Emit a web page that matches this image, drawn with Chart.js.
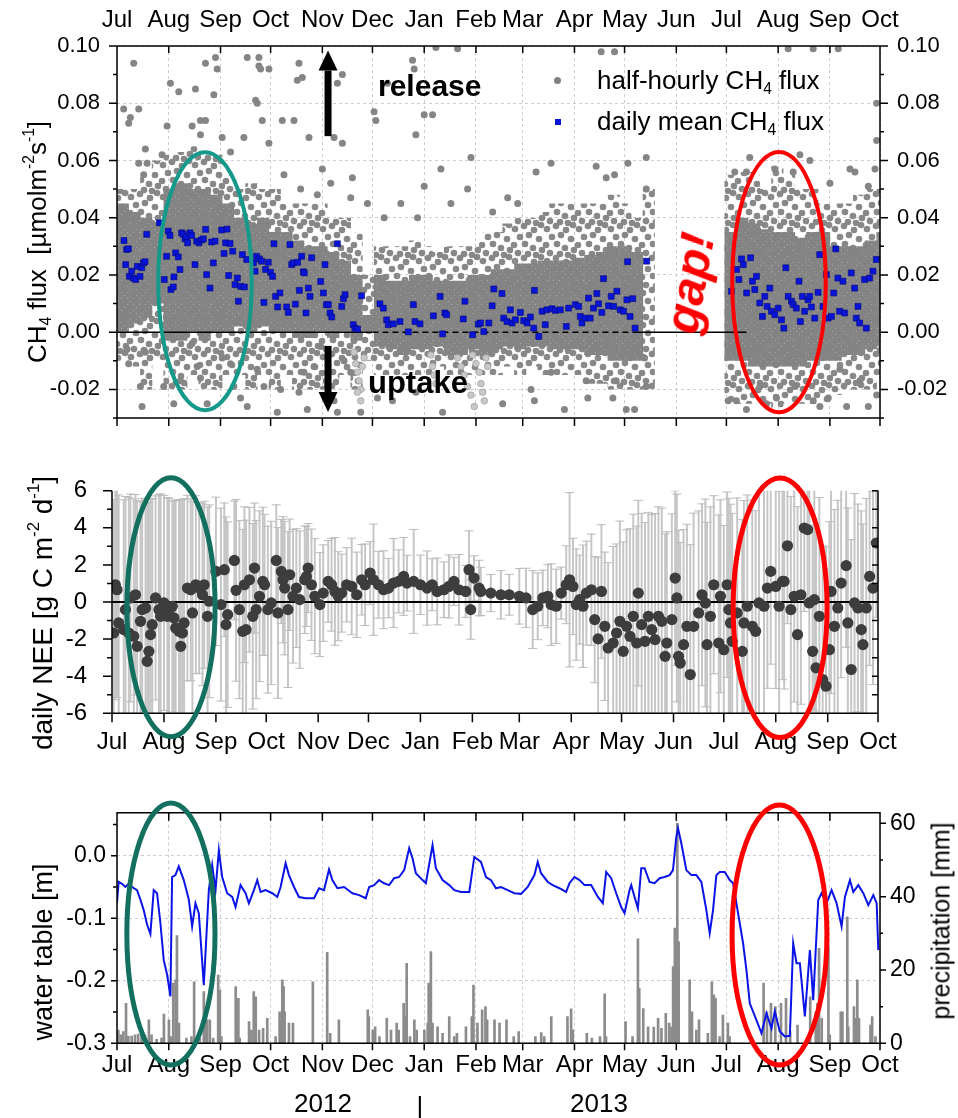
<!DOCTYPE html>
<html>
<head>
<meta charset="utf-8">
<title>CH4 flux, NEE and water table 2012-2013</title>
<script src="https://cdn.jsdelivr.net/npm/chart.js@4.4.1/dist/chart.umd.min.js"></script>
<style>
  html, body { margin:0; padding:0; background:#fff; }
  #page { position:relative; width:958px; height:1118px; overflow:hidden; font-family:"Liberation Sans", Arial, sans-serif; color:#000; }
  #page canvas { position:absolute; left:0; }
  .txt { position:absolute; white-space:nowrap; line-height:1; }
  .vt { transform:translate(-50%,-50%) rotate(-90deg); }
  .mid { transform:translate(0,-50%); }
  .ctr { transform:translate(-50%,-50%); }
  sub, sup { font-size:60%; line-height:0; }
  sub { vertical-align:-0.35em; }
  sup { vertical-align:0.75em; }
</style>
</head>
<body>
<div id="page">
  <canvas id="c1" width="958" height="440" style="top:0"></canvas>
  <canvas id="c2" width="958" height="340" style="top:440px"></canvas>
  <canvas id="c3" width="958" height="338" style="top:780px"></canvas>

  <div class="txt vt" style="left:37px;top:242px;font-size:26px">CH<sub>4</sub> flux&nbsp;&nbsp;[µmolm<sup>-2</sup>s<sup>-1</sup>]</div>
  <div class="txt mid" style="left:378px;top:86px;font-size:30px;font-weight:bold">release</div>
  <div class="txt mid" style="left:368px;top:382px;font-size:31px;font-weight:bold">uptake</div>
  <div class="txt" style="left:690px;top:283px;font-size:48px;font-weight:bold;font-style:italic;color:#f00;transform:translate(-50%,-50%) rotate(-80deg)">gap!</div>
  <div style="position:absolute;left:554px;top:77px;width:7px;height:7px;border-radius:50%;background:#808080"></div>
  <div class="txt mid" style="left:597px;top:80px;font-size:26px">half-hourly CH<sub>4</sub> flux</div>
  <div style="position:absolute;left:555px;top:119px;width:6px;height:6px;background:#0a14d6"></div>
  <div class="txt mid" style="left:597px;top:121px;font-size:26px">daily mean CH<sub>4</sub> flux</div>

  <div class="txt vt" style="left:43px;top:613px;font-size:28px">daily NEE [g C m<sup>-2</sup> d<sup>-1</sup>]</div>

  <div class="txt vt" style="left:43px;top:952px;font-size:27px">water table [m]</div>
  <div class="txt vt" style="left:941px;top:921px;font-size:25px">precipitation [mm]</div>
  <div class="txt ctr" style="left:323px;top:1103px;font-size:26px">2012</div>
  <div class="txt ctr" style="left:420px;top:1106px;font-size:26px">|</div>
  <div class="txt ctr" style="left:599px;top:1103px;font-size:26px">2013</div>
</div>
<script>
// x axis: days since 1 Jul 2012
const monthDays = [0,31,62,92,123,153,184,215,243,274,304,335,365,396,427,457];
const monthNames = ['Jul','Aug','Sep','Oct','Nov','Dec','Jan','Feb','Mar','Apr','May','Jun','Jul','Aug','Sep','Oct'];

// ---- panel 1: CH4 flux ----
const ch4MajorTicks = [-0.02,0,0.02,0.04,0.06,0.08,0.10];
const ch4MinorTicks = [-0.03,-0.01,0.01,0.03,0.05,0.07,0.09];

// daily mean CH4 flux (blue squares)
const ch4DailyDays = [
  4.2,5.2,5.8,6.8,7.4,8.8,9.8,11.2,12.2,13.8,
  14.8,15.8,16.8,17.8,25.4,28.3,29.7,30.7,31.7,32.3,
  33.7,34.1,35.1,36.7,37.7,38.7,39.7,40.7,41.7,42.3,
  43.7,44.7,46.7,47.7,49.1,50.7,51.7,53.1,53.7,55.7,
  56.7,57.7,58.7,62.7,64.1,65.1,65.9,66.9,67.7,69.3,
  70.7,72.1,72.7,74.1,75.1,76.3,77.7,81.7,82.7,83.6,
  85.2,86.6,88.0,89.0,90.6,92.0,93.2,94.0,95.0,96.2,
  97.6,101.6,102.6,103.6,104.6,105.6,106.8,108.2,109.2,110.6,
  111.6,112.2,113.2,114.6,115.6,116.6,122.0,123.6,124.6,125.4,
  126.6,127.6,128.6,132.0,134.6,135.6,136.6,141.5,142.5,144.1,
  146.5,157.5,159.5,161.5,162.5,165.5,169.5,174.5,177.5,178.5,
  181.5,189.5,193.5,195.0,196.4,197.4,207.4,208.4,213.0,216.4,
  217.7,219.7,222.7,224.7,225.7,230.6,231.6,233.6,235.6,236.6,
  238.6,241.6,243.6,245.6,247.6,249.6,250.0,252.6,254.6,256.5,
  257.5,260.5,262.5,265.5,269.1,270.5,274.5,276.5,277.5,278.5,
  280.5,282.4,283.4,285.4,287.4,288.4,290.4,291.4,294.4,296.0,
  297.4,299.4,301.4,303.4,305.4,305.8,307.3,308.9,310.3,317.3,
  368.1,371.1,372.5,374.1,375.1,377.1,379.5,380.6,382.0,383.0,
  385.0,386.6,388.0,389.4,391.0,392.0,394.0,396.0,398.0,399.4,
  400.6,402.0,404.0,405.0,406.9,408.5,409.3,410.5,411.9,413.9,
  414.9,415.9,417.9,419.9,420.9,422.9,424.9,425.9,427.9,429.3,
  430.5,431.8,432.8,434.8,435.8,439.8,441.8,442.8,443.8,444.8,
  447.8,448.8,450.8,452.8,454.8
];
const ch4DailyValues = [
  0.0320,0.0236,0.0289,0.0291,0.0195,0.0213,0.0189,0.0184,0.0230,0.0195,
  0.0225,0.0242,0.0246,0.0342,0.0382,0.0184,0.0265,0.0353,0.0338,0.0149,
  0.0158,0.0193,0.0277,0.0263,0.0219,0.0347,0.0342,0.0326,0.0333,0.0312,
  0.0347,0.0338,0.0236,0.0318,0.0312,0.0322,0.0326,0.0359,0.0201,0.0154,
  0.0315,0.0242,0.0318,0.0357,0.0275,0.0312,0.0360,0.0198,0.0310,0.0283,
  0.0166,0.0189,0.0108,0.0160,0.0271,0.0158,0.0254,0.0242,0.0213,0.0265,
  0.0256,0.0248,0.0104,0.0219,0.0244,0.0209,0.0195,0.0309,0.0125,0.0088,
  0.0137,0.0088,0.0069,0.0306,0.0236,0.0242,0.0098,0.0244,0.0146,0.0265,
  0.0211,0.0207,0.0067,0.0154,0.0125,0.0260,0.0177,0.0137,0.0236,0.0096,
  0.0096,0.0067,0.0053,0.0309,0.0090,0.0117,0.0131,0.0026,0.0014,0.0011,
  0.0127,0.0099,0.0084,0.0043,0.0026,0.0029,0.0037,0.0001,0.0096,0.0037,
  0.0029,0.0057,0.0125,-0.0006,0.0067,0.0061,0.0046,0.0108,-0.0009,0.0028,
  0.0032,0.0002,0.0032,0.0092,0.0151,0.0135,0.0049,0.0037,0.0078,0.0032,
  0.0043,0.0069,0.0040,0.0032,0.0053,0.0014,0.0146,-0.0015,0.0073,0.0026,
  0.0078,0.0082,0.0076,0.0078,0.0020,0.0084,0.0096,0.0090,0.0055,0.0032,
  0.0049,0.0119,0.0049,0.0084,0.0135,0.0099,0.0069,0.0187,0.0092,0.0125,
  0.0090,0.0143,0.0078,0.0073,0.0113,0.0246,0.0055,0.0117,0.0014,0.0248,
  0.0143,0.0219,0.0184,0.0256,0.0236,0.0137,0.0260,0.0178,0.0149,0.0195,
  0.0102,0.0055,0.0125,0.0090,0.0154,0.0073,0.0061,0.0084,0.0043,0.0014,
  0.0225,0.0125,0.0108,0.0096,0.0084,0.0178,0.0037,0.0125,0.0073,0.0113,
  0.0125,0.0088,0.0049,0.0139,0.0271,0.0090,0.0201,0.0049,0.0055,0.0137,
  0.0291,0.0189,0.0073,0.0178,0.0067,0.0207,0.0154,0.0049,0.0090,0.0032,
  0.0184,0.0014,0.0189,0.0213,0.0254
];

// half-hourly flux: dense core and outer spread per week (week i = days 7i..7i+6)
const cloudLo = [
  0.000,0.003,0.005,0.010,-0.003,-0.003,0.000,-0.003,0.000,0.000,
  0.002,0.000,0.002,0.000,0.000,-0.002,-0.002,0.000,-0.002,0.000,
  -0.003,0.000,-0.005,-0.006,-0.008,-0.006,-0.006,-0.005,-0.008,-0.008,
  -0.006,-0.008,-0.006,-0.005,-0.006,-0.005,-0.005,-0.006,-0.006,-0.006,
  -0.008,-0.008,-0.010,-0.010,-0.010,null,null,null,null,null,
  null,null,-0.010,-0.010,-0.012,-0.012,-0.012,-0.012,-0.012,-0.010,
  -0.010,-0.010,-0.008,-0.008,-0.006,-0.005
];
const cloudHi = [
  0.045,0.042,0.040,0.038,0.050,0.052,0.050,0.050,0.048,0.045,
  0.040,0.038,0.040,0.035,0.035,0.032,0.030,0.030,0.028,0.025,
  0.020,0.006,0.020,0.018,0.018,0.020,0.020,0.018,0.018,0.018,
  0.020,0.020,0.022,0.022,0.024,0.024,0.025,0.025,0.025,0.026,
  0.027,0.028,0.030,0.030,0.028,null,null,null,null,null,
  null,null,0.035,0.040,0.038,0.036,0.035,0.035,0.033,0.035,
  0.035,0.030,0.030,0.030,0.032,0.035
];
const haloLo = [
  -0.010,-0.012,-0.020,-0.010,-0.020,-0.020,-0.015,-0.020,-0.020,-0.015,
  -0.015,-0.020,-0.015,-0.020,-0.015,-0.020,-0.020,-0.020,-0.020,-0.015,
  -0.020,-0.010,-0.015,-0.015,-0.015,-0.015,-0.015,-0.012,-0.015,-0.015,
  -0.015,-0.015,-0.015,-0.012,-0.015,-0.012,-0.015,-0.015,-0.015,-0.015,
  -0.018,-0.018,-0.020,-0.020,-0.020,-0.020,null,null,null,null,
  null,null,-0.025,-0.025,-0.025,-0.025,-0.028,-0.025,-0.025,-0.025,
  -0.025,-0.022,-0.020,-0.020,-0.020,-0.015
];
const haloHi = [
  0.050,0.050,0.055,0.060,0.062,0.063,0.065,0.063,0.062,0.055,
  0.050,0.052,0.050,0.050,0.045,0.045,0.045,0.045,0.040,0.040,
  0.035,0.020,0.030,0.030,0.030,0.032,0.030,0.028,0.030,0.030,
  0.030,0.035,0.035,0.038,0.040,0.040,0.042,0.045,0.045,0.045,
  0.045,0.045,0.048,0.045,0.040,0.050,null,null,null,null,
  null,null,0.055,0.056,0.056,0.050,0.058,0.055,0.050,0.050,
  0.045,0.045,0.045,0.048,0.050,0.050
];

// scattered half-hourly values outside the core
const ch4OutDays = [
  10,4,8,7,13,17,13,18,16,32,
  37,30,27,47,45,50,53,50,53,58,
  59,60,63,68,76,78,85,85,86,91,
  83,84,87,91,99,106,109,108,111,115,
  123,130,135,132,135,141,154,155,162,177,
  178,179,184,189,191,204,212,194,184,100,
  110,120,128,140,150,160,170,180,200,210,
  225,240,290,298,260,251,287,306,293,298,
  234,317,317,370,377,379,394,402,409,405,
  415,417,432,439,442,427,450,454,455,455,
  6,7,14,15,17,28,34,38,45,48,
  50,54,63,68,70,74,78,84,88,96,
  98,109,112,114,118,122,126,130,132,136,
  140,146,156,165,179,195,225,231,248,250,
  260,268,281,282,297,299,305,310,316,317,
  366,371,377,385,389,395,406,411,417,421,
  426,433,437,445,450,455
];
const ch4OutValues = [
  0.094,0.078,0.075,0.073,0.078,0.064,0.059,0.059,0.055,0.087,
  0.084,0.072,0.062,0.085,0.072,0.074,0.074,0.069,0.094,0.083,
  0.096,0.092,0.068,0.063,0.068,0.096,0.096,0.093,0.092,0.092,
  0.081,0.080,0.074,0.066,0.074,0.074,0.094,0.088,0.089,0.068,
  0.057,0.068,0.066,0.087,0.090,0.054,0.077,0.074,0.087,0.095,
  0.092,0.069,0.076,0.076,0.0995,0.099,0.061,0.057,0.051,0.055,
  0.050,0.048,0.052,0.047,0.045,0.040,0.045,0.040,0.045,0.050,
  0.042,0.045,0.098,0.098,0.059,0.056,0.058,0.059,0.054,0.055,
  0.047,0.061,0.050,0.056,0.056,0.061,0.057,0.099,0.062,0.056,
  0.060,0.099,0.099,0.057,0.056,0.052,0.051,0.057,0.080,0.067,
  -0.006,-0.011,-0.019,-0.026,-0.007,-0.019,-0.025,-0.017,-0.004,-0.012,
  -0.016,-0.025,-0.009,-0.011,-0.019,-0.023,-0.026,-0.013,-0.019,-0.028,
  -0.020,-0.021,-0.014,-0.027,-0.012,-0.005,-0.019,-0.024,-0.028,-0.010,
  -0.014,-0.028,-0.023,-0.024,-0.021,-0.028,-0.006,-0.025,-0.020,-0.024,
  -0.014,-0.027,-0.017,-0.023,-0.023,-0.017,-0.027,-0.027,-0.009,-0.019,
  -0.024,-0.024,-0.027,-0.019,-0.025,-0.023,-0.019,-0.010,-0.024,-0.026,
  -0.023,-0.013,-0.026,-0.017,-0.026,-0.022
];
// light grey (filtered) winter values below zero
const ch4FiltDays = [142,143,144,145,146,147,148,146,144,188,189,190,191,204,206,208,210,212,214,213,215,217,218,219,220,221,222];
const ch4FiltValues = [-0.007,-0.011,-0.014,-0.017,-0.020,-0.012,-0.009,-0.024,-0.021,-0.008,-0.012,-0.015,-0.018,-0.009,-0.012,-0.015,-0.019,-0.022,-0.026,-0.008,-0.011,-0.014,-0.018,-0.021,-0.024,-0.009,-0.012];
const zeroLineDays = [0,153,311,377];

// ---- panel 2: daily NEE ----
const neeMajorTicks = [-6,-4,-2,0,2,4,6];
const neeMinorTicks = [-5,-3,-1,1,3,5];
const neeDays = [
  1,2,3,4,7,8,10,11,13,14,
  15,17,18,20,21,22,23,24,26,28,
  29,31,33,34,36,37,38,40,41,42,
  43,45,47,48,50,52,54,55,57,58,
  62,65,67,68,69,73,74,76,78,79,
  80,82,84,85,86,88,90,91,93,95,
  98,99,101,102,103,105,106,108,110,112,
  115,116,117,119,121,124,126,129,131,133,
  135,137,140,143,146,149,151,154,156,159,
  162,165,168,171,174,176,180,184,188,191,
  194,198,201,204,207,211,213,214,216,219,
  220,226,232,237,243,247,251,254,257,260,
  262,265,268,271,273,275,277,279,281,283,
  286,288,290,292,294,296,299,301,303,305,
  307,309,311,313,314,316,318,320,322,324,
  326,328,330,331,334,336,337,338,339,341,
  343,345,347,350,352,354,355,357,359,362,
  363,365,367,368,369,370,373,376,377,379,
  382,384,386,389,391,393,396,398,400,401,
  403,405,407,409,411,413,415,416,418,419,
  420,422,424,426,428,429,431,433,435,438,
  439,441,443,445,447,448,450,452,454,456
];
const neeValues = [
  -1.67,0.93,0.66,-1.13,-1.49,-0.41,-1.67,0.22,-1.85,0.39,
  -2.39,-1.04,-0.41,-0.32,-3.2,-2.66,-1.76,-1.22,0.22,-0.41,
  -0.77,-0.05,-0.77,-0.41,-0.23,-0.86,-1.4,-1.58,-2.39,-1.67,
  -1.13,0.75,0.66,-0.59,0.93,0.75,0.39,0.93,-0.77,0.04,
  1.65,-0.14,1.74,-1.22,-0.68,2.24,0.63,-0.41,-1.58,0.93,
  -1.49,1.2,-0.77,1.83,-0.41,0.31,1.11,0.93,-0.41,-0.05,
  2.24,-0.59,1.65,1.2,0.75,-0.41,1.47,0.31,0.75,0.13,
  1.2,1.38,1.83,0.93,0.31,-0.14,0.48,1.11,0.93,0.57,
  0.31,0.48,0.93,0.84,0.39,1.2,0.93,1.56,1.2,0.93,
  0.66,0.75,1.02,1.11,1.38,1.02,1.11,0.93,0.75,0.93,
  0.57,0.66,0.84,1.11,0.66,0.57,1.74,-0.41,1.29,0.75,
  0.57,0.48,0.39,0.39,0.31,0.22,-0.41,-0.23,0.22,0.31,
  -0.14,-0.23,0.48,0.93,1.2,0.84,-0.14,0.13,-0.23,0.48,
  0.66,-0.95,-1.99,0.57,-1.31,-2.48,-2.21,-1.67,-1.04,-2.66,
  -1.31,-1.85,-0.77,-2.21,0.48,-1.22,-2.12,-0.77,-1.49,-2.03,
  -0.77,-1.04,-2.93,-2.21,-0.95,1.29,0.22,-2.93,-3.29,-2.3,
  -1.31,-3.91,-1.31,-0.59,0.39,-0.05,-2.3,-0.77,0.93,-2.21,
  0.31,-2.57,0.93,-0.41,-1.13,-2.12,-0.59,-2.66,-1.13,-0.23,
  -1.31,-1.58,-0.05,-0.23,0.75,1.65,0.84,-0.23,1.11,1.11,
  3.03,-0.41,0.31,-1.76,0.39,3.99,3.9,-0.05,-2.66,0.13,
  -3.55,-0.77,-4.18,-4.54,-2.57,0.57,-1.31,-0.32,1.02,1.96,
  -1.13,-3.64,-0.05,-0.32,-1.49,-2.3,-0.32,1.38,0.75,3.18
];
const neeErr = [
  7.2,6.2,5.8,6.9,7.0,6.1,7.3,5.6,7.4,5.4,
  7.8,6.5,6.0,5.9,8.6,8.0,7.3,6.8,5.5,6.2,
  6.6,5.8,6.4,6.0,5.7,6.3,6.9,7.1,7.9,7.2,
  6.7,5.0,4.9,6.0,4.8,4.6,4.9,4.5,5.9,5.2,
  4.0,5.2,3.6,5.8,5.0,3.2,4.9,4.8,5.5,4.2,
  5.9,3.9,5.0,3.5,4.8,4.6,4.0,3.8,4.5,4.4,
  3.0,4.6,2.8,3.4,3.6,4.2,3.0,3.6,3.2,3.7,
  2.9,2.7,2.4,3.0,3.1,2.8,2.6,2.2,2.5,2.9,
  2.4,2.1,2.0,2.6,2.3,1.9,2.2,1.7,3.0,1.8,
  2.1,1.6,2.4,1.7,2.1,1.5,2.8,1.6,2.0,1.4,
  1.8,1.5,1.7,1.3,1.9,1.4,2.1,1.6,1.2,1.5,
  1.3,1.0,1.3,1.1,1.5,1.6,2.1,1.8,1.5,1.7,
  2.2,2.0,1.4,2.1,4.7,2.6,3.0,2.4,3.3,2.8,
  3.0,3.4,4.4,3.6,4.0,4.6,5.2,4.8,5.4,5.9,
  5.2,5.8,5.5,6.3,5.0,6.0,6.4,5.6,6.2,6.8,
  5.9,6.1,6.6,6.0,5.7,4.7,5.6,6.8,6.5,6.2,
  5.5,7.0,6.1,5.5,4.9,5.6,6.6,5.9,4.8,6.9,
  5.2,6.7,5.0,6.0,6.4,6.9,6.2,7.1,6.6,6.0,
  6.8,6.5,6.1,6.3,5.4,5.0,5.5,6.2,5.3,5.8,
  4.2,6.1,5.7,6.9,5.9,4.5,3.8,6.2,6.8,6.0,
  7.3,6.4,7.2,7.5,6.9,5.5,6.3,5.8,5.1,4.4,
  6.2,7.0,5.9,5.6,6.4,6.5,5.9,4.8,5.2,4.0
];

// ---- panel 3: water table and precipitation ----
const wtMajorTicks = [-0.3,-0.2,-0.1,0.0];
const wtMinorTicks = [-0.25,-0.15,-0.05,0.05];
const prMajorTicks = [0,20,40,60];
const prMinorTicks = [10,30,50];
const wtDays = [
  0,1,3,5,7,9,12,14,16,18,
  20,22,24,26,28,30,32,33,35,37,
  40,43,45,47,49,52,55,57,59,61,
  63,66,69,71,74,77,79,82,84,86,
  89,93,96,98,101,103,106,109,113,118,
  121,124,127,129,132,136,141,145,149,151,
  154,157,160,163,166,169,172,175,177,179,
  183,185,189,191,195,199,202,206,211,214,
  218,221,224,227,230,234,238,242,246,250,
  252,254,258,261,265,269,271,274,277,280,
  284,288,291,293,296,299,302,304,307,308,
  310,312,314,316,319,322,325,328,331,333,
  335,336,338,341,344,347,350,353,355,357,
  359,361,364,367,369,372,375,377,379,383,
  386,389,392,394,397,400,403,405,407,409,
  412,415,417,420,422,425,428,431,434,436,
  439,441,444,447,450,453,455,456
];
const wtValues = [
  -0.075,-0.042,-0.045,-0.050,-0.045,-0.050,-0.055,-0.070,-0.087,-0.110,
  -0.125,-0.055,-0.060,-0.108,-0.167,-0.190,-0.225,-0.034,-0.031,-0.017,
  -0.039,-0.070,-0.113,-0.076,-0.092,-0.207,-0.055,-0.015,-0.055,0.009,
  -0.034,-0.060,-0.066,-0.082,-0.047,-0.060,-0.076,-0.055,-0.039,-0.058,
  -0.055,-0.060,-0.066,-0.050,-0.012,-0.031,-0.050,-0.066,-0.068,-0.068,
  -0.052,-0.055,-0.022,-0.039,-0.052,-0.050,-0.060,-0.063,-0.068,-0.050,
  -0.047,-0.039,-0.044,-0.047,-0.036,-0.034,-0.023,0.012,-0.004,-0.028,
  -0.039,-0.044,0.017,-0.020,-0.039,-0.047,-0.055,-0.058,-0.058,-0.002,
  -0.010,-0.034,-0.039,-0.052,-0.050,-0.055,-0.060,-0.061,-0.050,-0.031,
  -0.010,-0.028,-0.042,-0.047,-0.052,-0.058,-0.044,-0.034,-0.039,-0.047,
  -0.047,-0.066,-0.076,-0.026,-0.036,-0.060,-0.082,-0.092,-0.055,-0.047,
  -0.066,-0.084,-0.020,-0.020,-0.042,-0.044,-0.036,-0.034,-0.031,-0.023,
  0.030,0.044,0.020,-0.023,-0.031,-0.031,-0.042,-0.087,-0.124,-0.087,
  -0.031,-0.026,-0.026,-0.039,-0.044,-0.092,-0.140,-0.183,-0.236,-0.263,
  -0.284,-0.252,-0.276,-0.249,-0.281,-0.289,-0.288,-0.140,-0.172,-0.172,
  -0.257,-0.151,-0.231,-0.071,-0.060,-0.076,-0.055,-0.076,-0.113,-0.066,
  -0.039,-0.058,-0.047,-0.060,-0.079,-0.063,-0.076,-0.151
];
const precipDays = [
  0.8,2.2,3.8,5.4,6.8,8.8,10.8,12.7,14.7,16.7,
  19.1,20.7,23.7,26.7,28.1,31.1,32.3,33.7,35.1,35.9,
  37.1,41.6,44.6,46.2,49.6,52.0,52.8,54.0,55.6,57.6,
  60.6,61.6,62.5,71.1,71.9,72.7,73.5,79.1,80.5,81.9,
  83.1,85.1,87.5,90.0,95.0,97.4,98.4,99.0,99.8,100.4,
  103.0,105.4,117.3,125.9,127.7,132.9,150.2,150.8,153.2,154.6,
  157.2,161.6,164.1,167.5,168.7,171.7,172.7,173.5,175.5,178.1,
  179.5,184.1,186.1,186.7,188.0,189.0,192.0,195.0,199.0,202.0,
  203.6,209.0,212.5,213.5,215.9,218.7,220.7,221.7,226.1,229.1,
  233.3,237.6,240.6,250.6,254.1,255.9,260.1,269.8,272.0,273.0,
  281.4,284.4,289.3,292.1,292.9,304.6,308.8,312.0,312.8,315.2,
  318.1,321.5,324.1,326.1,328.7,330.7,332.1,333.1,334.1,335.0,
  335.6,336.4,343.0,344.4,347.0,348.6,353.9,356.3,357.5,358.5,
  360.9,362.9,365.9,366.9,387.3,389.3,391.7,394.3,397.7,400.7,
  403.2,407.6,415.2,418.5,419.5,420.5,422.1,426.1,426.9,433.5,
  434.5,437.4,438.0,441.4,442.0,443.4,444.4,451.3,452.3,454.3
];
const precipMm = [
  3.6,2.3,3.2,10.9,2.0,2.0,2.3,2.5,3.2,2.3,
  6.4,2.3,1.1,1.4,8.0,6.4,1.8,16.4,17.3,29.4,
  5.5,1.4,1.8,16.8,1.4,14.1,10.0,6.4,6.4,1.4,
  18.6,14.5,1.8,15.5,6.4,12.3,1.4,5.9,3.6,14.1,
  12.7,3.6,4.1,6.8,1.8,8.6,6.4,17.3,15.5,8.6,
  5.5,5.5,16.8,24.8,2.7,6.4,9.1,7.3,3.6,4.5,
  1.8,6.8,3.6,5.5,3.6,10.9,7.3,21.8,1.8,6.4,
  3.6,3.6,5.5,16.4,25.0,5.5,4.5,2.7,7.3,1.8,
  2.7,4.5,7.3,15.9,5.5,9.1,10.0,6.4,6.4,5.5,
  6.4,1.8,3.2,1.8,2.9,1.8,7.3,7.3,9.4,3.6,
  2.7,1.4,1.8,13.5,1.8,5.9,1.8,28.5,15.0,9.5,
  4.5,4.4,6.8,4.1,8.2,5.5,4.5,20.9,31.4,28.2,
  60.0,27.7,17.3,8.6,3.6,6.4,2.7,16.8,13.2,12.3,
  1.8,7.7,5.5,1.8,16.4,8.6,10.9,10.0,10.9,12.3,
  3.2,5.0,12.7,8.6,10.9,25.9,6.8,25.9,2.3,8.6,
  8.6,34.5,4.5,10.0,6.8,17.3,6.8,5.0,7.3,1.8
];

// ---- helpers ----
const FONT = '"Liberation Sans", Arial, sans-serif';
const tickFont = size => ({ family: FONT, size });
const pts = (days, vals) => days.map((d, i) => ({ x: d, y: vals[i] }));
const weekBars = (lo, hi) => lo.map((l, i) => ({ x: i * 7 + 3.5, y: [l, hi[i]] })).filter(p => p.y[0] !== null);
const monthTicks = s => { s.ticks = monthDays.map(v => ({ value: v })); };
const monthLabel = v => monthNames[monthDays.indexOf(v)];
// fixed box sizes so the plot areas line up with the reference
const fixH = h => s => { s.height = h; s.paddingLeft = 0; s.paddingRight = 0; };
const fixW = w => s => { s.width = w; s.paddingTop = 0; s.paddingBottom = 0; };

// dot textures for the half-hourly point cloud
function dotPattern(size, dots, r, color){
  const c = document.createElement('canvas');
  c.width = c.height = size;
  const g = c.getContext('2d');
  g.fillStyle = color;
  dots.forEach(([x, y]) => {
    for (const dx of [-size, 0, size]) for (const dy of [-size, 0, size]) {
      g.beginPath(); g.arc(x + dx, y + dy, r, 0, Math.PI * 2); g.fill();
    }
  });
  return g.createPattern(c, 'repeat');
}
const densePat = dotPattern(6, [[1.5,1.5],[4.5,4.5]], 2.8, '#848484');
const haloPat = dotPattern(32, [[3,5],[12,2],[22,6],[29,1],[8,13],[17,11],[27,15],[2,21],[13,20],[21,24],[30,26],[6,29],[16,30],[24,31]], 3.3, '#888888');

// frame lines and tick marks (positive len = outward)
const axisMarks = {
  id: 'axisMarks',
  afterDatasetsDraw(chart, args, opts){
    const { ctx, chartArea: a } = chart;
    ctx.save();
    ctx.strokeStyle = '#000';
    ctx.lineWidth = opts.lineWidth || 1.5;
    ctx.beginPath();
    (opts.frame || []).forEach(e => {
      if (e === 'top') { ctx.moveTo(a.left - 0.7, a.top); ctx.lineTo(a.right + 0.7, a.top); }
      if (e === 'bottom') { ctx.moveTo(a.left - 0.7, a.bottom); ctx.lineTo(a.right + 0.7, a.bottom); }
      if (e === 'left') { ctx.moveTo(a.left, a.top); ctx.lineTo(a.left, a.bottom); }
      if (e === 'right') { ctx.moveTo(a.right, a.top); ctx.lineTo(a.right, a.bottom); }
    });
    (opts.marks || []).forEach(m => {
      const s = chart.scales[m.scale];
      m.values.forEach(v => {
        const p = s.getPixelForValue(v);
        if (m.edge === 'top') { ctx.moveTo(p, a.top); ctx.lineTo(p, a.top - m.len); }
        else if (m.edge === 'bottom') { ctx.moveTo(p, a.bottom); ctx.lineTo(p, a.bottom + m.len); }
        else if (m.edge === 'left') { ctx.moveTo(a.left, p); ctx.lineTo(a.left - m.len, p); }
        else { ctx.moveTo(a.right, p); ctx.lineTo(a.right + m.len, p); }
      });
    });
    ctx.stroke();
    ctx.restore();
  }
};

// highlight ellipses and arrows, placed in data units
const overlays = {
  id: 'overlays',
  afterDraw(chart, args, opts){
    const ctx = chart.ctx, xs = chart.scales.x, ys = chart.scales.y;
    ctx.save();
    (opts.ellipses || []).forEach(e => {
      const cx = xs.getPixelForValue(e.day), cy = ys.getPixelForValue(e.value);
      const rx = Math.abs(xs.getPixelForValue(e.day + e.rDays) - cx);
      const ry = Math.abs(ys.getPixelForValue(e.value + e.rValue) - cy);
      ctx.beginPath();
      ctx.ellipse(cx, cy, rx, ry, 0, 0, Math.PI * 2);
      ctx.strokeStyle = e.color; ctx.lineWidth = e.width; ctx.stroke();
    });
    (opts.arrows || []).forEach(a => {
      const x = xs.getPixelForValue(a.day);
      const y0 = ys.getPixelForValue(a.from), y1 = ys.getPixelForValue(a.to);
      const dir = Math.sign(y1 - y0), yb = y1 - dir * 20;
      ctx.fillStyle = '#000';
      ctx.fillRect(x - 3.5, Math.min(y0, yb), 7, Math.abs(yb - y0));
      ctx.beginPath();
      ctx.moveTo(x - 9.5, yb); ctx.lineTo(x + 9.5, yb); ctx.lineTo(x, y1); ctx.closePath();
      ctx.fill();
    });
    ctx.restore();
  }
};

const dashedGrid = { color: '#cdcdcd', lineWidth: 1, drawTicks: false };
const noBorder = { display: false, dash: [3, 3] };
const baseOpts = { responsive: false, animation: false, events: [] };
const noPlugins = { legend: { display: false }, tooltip: { enabled: false } };

// ---- panel 1 ----
new Chart(document.getElementById('c1'), {
  type: 'scatter',
  data: { datasets: [
    { data: pts(ch4DailyDays, ch4DailyValues), pointStyle: 'rect', pointRadius: 4.2,
      backgroundColor: '#0a14d6', borderColor: '#00087a', borderWidth: 0.6, order: 0 },
    { type: 'line', data: pts(zeroLineDays, zeroLineDays.map(() => 0)), borderColor: '#000', borderWidth: 1.5,
      pointRadius: 0, segment: { borderDash: c => c.p0DataIndex === 1 ? [6, 4] : undefined }, order: 1 },
    { data: pts(ch4OutDays, ch4OutValues), pointRadius: 3.5, backgroundColor: '#858585', borderWidth: 0, order: 2 },
    { data: pts(ch4FiltDays, ch4FiltValues), pointRadius: 3.3, backgroundColor: '#c8c8c8',
      borderColor: '#9c9c9c', borderWidth: 0.7, order: 3 },
    { type: 'bar', data: weekBars(cloudLo, cloudHi), backgroundColor: densePat, borderWidth: 0,
      grouped: false, barPercentage: 1, categoryPercentage: 1.04, order: 4 },
    { type: 'bar', data: weekBars(haloLo, haloHi), backgroundColor: haloPat, borderWidth: 0,
      grouped: false, barPercentage: 1, categoryPercentage: 1.04, order: 5 }
  ]},
  options: { ...baseOpts,
    layout: { padding: { bottom: 22 } },
    plugins: { ...noPlugins,
      axisMarks: { frame: ['top','bottom','left','right'], marks: [
        { scale: 'x', edge: 'top', values: monthDays, len: -7 },
        { scale: 'x', edge: 'bottom', values: monthDays, len: 8 },
        { scale: 'y', edge: 'left', values: ch4MajorTicks, len: 8 },
        { scale: 'y', edge: 'left', values: ch4MinorTicks, len: 4 },
        { scale: 'y', edge: 'right', values: ch4MajorTicks, len: 8 },
        { scale: 'y', edge: 'right', values: ch4MinorTicks, len: 4 }
      ]},
      overlays: {
        ellipses: [
          { day: 52.7, value: 0.0178, rDays: 28, rValue: 0.0451, color: '#14998a', width: 4 },
          { day: 396.5, value: 0.0175, rDays: 28, rValue: 0.0455, color: '#ff0000', width: 4 }
        ],
        arrows: [
          { day: 126.4, from: 0.0685, to: 0.0984 },
          { day: 126.4, from: -0.0048, to: -0.0279 }
        ]
      }
    },
    scales: {
      x: { type: 'linear', position: 'top', min: 0, max: 457, offset: false, afterBuildTicks: monthTicks,
           afterFit: fixH(46),
           ticks: { autoSkip: false, maxRotation: 0, padding: 11, font: tickFont(24), color: '#000', callback: monthLabel },
           grid: { ...dashedGrid, offset: false }, border: noBorder },
      y: { type: 'linear', position: 'left', min: -0.03, max: 0.10,
           afterBuildTicks: s => { s.ticks = ch4MajorTicks.map(v => ({ value: v })); },
           afterFit: fixW(117),
           ticks: { padding: 17, font: tickFont(22), color: '#000', callback: v => v.toFixed(2) },
           grid: dashedGrid, border: noBorder },
      y2: { type: 'linear', position: 'right', min: -0.03, max: 0.10,
           afterBuildTicks: s => { s.ticks = ch4MajorTicks.map(v => ({ value: v })); },
           afterFit: fixW(78),
           ticks: { padding: 17, font: tickFont(22), color: '#000', callback: v => v.toFixed(2) },
           grid: { drawOnChartArea: false, drawTicks: false }, border: { display: false } }
    }
  },
  plugins: [axisMarks, overlays]
});

// ---- panel 2 ----
const neeBars = neeDays.map((d, i) => ({ x: d, y: [neeValues[i] - neeErr[i], neeValues[i] + neeErr[i]] }));
const neeCaps = neeDays.flatMap((d, i) => [{ x: d, y: neeValues[i] + neeErr[i] }, { x: d, y: neeValues[i] - neeErr[i] }]);
new Chart(document.getElementById('c2'), {
  type: 'scatter',
  data: { datasets: [
    { data: pts(neeDays, neeValues), pointRadius: 5.6, backgroundColor: '#3d3d3d', borderWidth: 0, order: 0 },
    { type: 'line', data: [{ x: 0, y: 0 }, { x: 457, y: 0 }], borderColor: '#000', borderWidth: 1.8, pointRadius: 0, order: 1 },
    { data: neeCaps, pointStyle: 'line', pointRadius: 4.5, borderColor: '#bdbdbd', borderWidth: 1, order: 2 },
    { type: 'bar', data: neeBars, backgroundColor: '#c6c6c6', barThickness: 1.3, grouped: false, order: 3 }
  ]},
  options: { ...baseOpts,
    layout: { padding: { top: 50.7, right: 80 } },
    plugins: { ...noPlugins,
      axisMarks: { frame: ['left','bottom','right'], marks: [
        { scale: 'x', edge: 'bottom', values: monthDays, len: 9 },
        { scale: 'y', edge: 'left', values: neeMajorTicks, len: 9 },
        { scale: 'y', edge: 'left', values: neeMinorTicks, len: 5 },
        { scale: 'y', edge: 'right', values: neeMajorTicks, len: -6 },
        { scale: 'y', edge: 'right', values: neeMinorTicks, len: -6 }
      ]},
      overlays: { ellipses: [
        { day: 35.2, value: -0.28, rDays: 26.3, rValue: 6.98, color: '#13705f', width: 5 },
        { day: 398.6, value: -0.31, rDays: 28, rValue: 7.0, color: '#ff0000', width: 5 }
      ]}
    },
    scales: {
      x: { type: 'linear', position: 'bottom', min: 0, max: 457, offset: false, afterBuildTicks: monthTicks,
           afterFit: fixH(66.7),
           ticks: { autoSkip: false, maxRotation: 0, padding: 7, font: tickFont(24), color: '#000', callback: monthLabel },
           grid: { display: false, offset: false }, border: { display: false } },
      y: { type: 'linear', position: 'left', min: -6, max: 6,
           afterBuildTicks: s => { s.ticks = neeMajorTicks.map(v => ({ value: v })); },
           afterFit: fixW(112),
           ticks: { padding: 17, font: tickFont(24), color: '#000', callback: v => String(v) },
           grid: { display: false }, border: { display: false } }
    }
  },
  plugins: [axisMarks, overlays]
});

// ---- panel 3 ----
new Chart(document.getElementById('c3'), {
  type: 'scatter',
  data: { datasets: [
    { type: 'line', data: pts(wtDays, wtValues), yAxisID: 'y', borderColor: '#0a14e6', borderWidth: 2,
      pointRadius: 0, tension: 0, order: 0 },
    { type: 'bar', data: pts(precipDays, precipMm), yAxisID: 'y2', backgroundColor: '#8c8c8c',
      barThickness: 2, grouped: false, order: 1 }
  ]},
  options: { ...baseOpts,
    layout: { padding: { top: 32.7 } },
    plugins: { ...noPlugins,
      axisMarks: { frame: ['top','bottom','left','right'], marks: [
        { scale: 'x', edge: 'top', values: monthDays, len: -8 },
        { scale: 'x', edge: 'bottom', values: monthDays, len: 7 },
        { scale: 'y', edge: 'left', values: wtMajorTicks, len: 6 },
        { scale: 'y', edge: 'left', values: wtMinorTicks, len: 4 },
        { scale: 'y2', edge: 'right', values: prMajorTicks, len: 6 },
        { scale: 'y2', edge: 'right', values: prMinorTicks, len: 3 }
      ]},
      overlays: { ellipses: [
        { day: 32.3, value: -0.1253, rDays: 26.4, rValue: 0.2096, color: '#13705f', width: 5 },
        { day: 396.8, value: -0.1269, rDays: 28.4, rValue: 0.208, color: '#ff0000', width: 5 }
      ]}
    },
    scales: {
      x: { type: 'linear', position: 'bottom', min: 0, max: 457, offset: false, afterBuildTicks: monthTicks,
           afterFit: fixH(74.7),
           ticks: { autoSkip: false, maxRotation: 0, padding: 8, font: tickFont(24), color: '#000', callback: monthLabel },
           grid: { ...dashedGrid, offset: false }, border: noBorder },
      y: { type: 'linear', position: 'left', min: -0.3, max: 0.0688,
           afterBuildTicks: s => { s.ticks = wtMajorTicks.map(v => ({ value: v })); },
           afterFit: fixW(117),
           ticks: { padding: 11, font: tickFont(23), color: '#000', callback: v => v.toFixed(1) },
           grid: dashedGrid, border: noBorder },
      y2: { type: 'linear', position: 'right', min: 0, max: 62.9,
           afterBuildTicks: s => { s.ticks = prMajorTicks.map(v => ({ value: v })); },
           afterFit: fixW(78),
           ticks: { padding: 10, font: tickFont(23), color: '#000', callback: v => String(v) },
           grid: { drawOnChartArea: false, drawTicks: false }, border: { display: false } }
    }
  },
  plugins: [axisMarks, overlays]
});
</script>
</body>
</html>
